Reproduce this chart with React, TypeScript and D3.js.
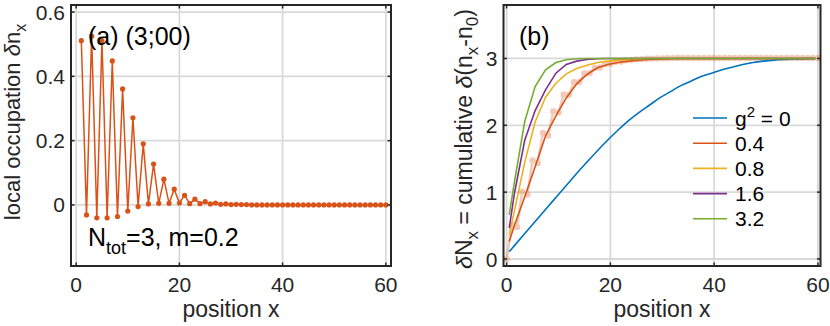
import * as d3 from 'd3';

// left panel: local occupation per site
const sites = d3.range(1, 61);
const occupation = [
  0.511, -0.031, 0.525, -0.040, 0.511, -0.040, 0.448, -0.036, 0.361, -0.019,
  0.271, -0.005, 0.190, 0.003, 0.127, 0.005, 0.080, 0.005, 0.049, 0.006,
  0.030, 0.004, 0.018, 0.004, 0.010, 0.003, 0.006, 0.002, 0.003, 0.001,
  0.002, 0.001, 0.001, 0, 0, 0, 0, 0, 0, 0,
  0, 0, 0, 0, 0, 0, 0, 0, 0, 0,
  0, 0, 0, 0, 0, 0, 0, 0, 0, 0,
];

// right panel: cumulative curves for each coupling
const cumX = [0.5, 1.5, 3.5, 5.5, 7.5, 9.5, 11.5, 13.5, 15.5, 17.5, 19.5, 21.5, 23.5, 25.5, 27.5,
  29.5, 31.5, 33.5, 35.5, 37.5, 39.5, 41.5, 43.5, 45.5, 47.5, 49.5, 51.5, 53.5, 55.5, 57.5, 59.5];
const g0 = [0.11, 0.20, 0.38, 0.56, 0.74, 0.92, 1.10, 1.28, 1.45, 1.62, 1.78, 1.93, 2.07, 2.19, 2.30,
  2.41, 2.50, 2.59, 2.66, 2.73, 2.78, 2.83, 2.87, 2.91, 2.94, 2.96, 2.975, 2.985, 2.993, 2.998, 3.0];
const g04 = [0.26, 0.50, 0.93, 1.38, 1.84, 2.14, 2.41, 2.62, 2.76, 2.86, 2.91, 2.94, 2.96, 2.975, 2.985,
  2.99, 2.995, 3, 3, 3, 3, 3, 3, 3, 3, 3, 3, 3, 3, 3, 3];
const g08 = [0.36, 0.72, 1.45, 2.05, 2.42, 2.63, 2.77, 2.85, 2.90, 2.94, 2.96, 2.975, 2.985, 2.99, 3,
  3, 3, 3, 3, 3, 3, 3, 3, 3, 3, 3, 3, 3, 3, 3, 3];
const g16 = [0.46, 0.98, 1.78, 2.22, 2.53, 2.78, 2.91, 2.96, 2.985, 2.995, 3, 3, 3, 3, 3,
  3, 3, 3, 3, 3, 3, 3, 3, 3, 3, 3, 3, 3, 3, 3, 3];
const g32 = [0.66, 1.15, 2.06, 2.58, 2.83, 2.94, 2.98, 2.995, 3, 3, 3, 3, 3, 3, 3,
  3, 3, 3, 3, 3, 3, 3, 3, 3, 3, 3, 3, 3, 3, 3, 3];
const series = [
  { label: '0', values: g0, color: '#0072BD' },
  { label: '0.4', values: g04, color: '#D95319' },
  { label: '0.8', values: g08, color: '#EDB120' },
  { label: '1.6', values: g16, color: '#7E2F8E' },
  { label: '3.2', values: g32, color: '#77AC30' },
];

const xTicks = [0, 20, 40, 60];
const leftYTicks = [0, 0.2, 0.4, 0.6];
const rightYTicks = [0, 1, 2, 3];

const FONT = '"Liberation Sans", Arial, Helvetica, sans-serif';
const AXIS = '#262626';
const GRID = '#d9d9d9';

const lx = d3.scaleLinear().domain([-1, 61]).range([71, 391]);
const ly = d3.scaleLinear().domain([-0.19, 0.622]).range([266, 5]);
const rx = d3.scaleLinear().domain([-0.6, 60.5]).range([503.5, 820.5]);
const ry = d3.scaleLinear().domain([-0.105, 3.8]).range([266, 5]);

function Grid({ x, y, yTicks }) {
  const [x0, x1] = x.range();
  const [y1, y0] = y.range();
  return (
    <g>
      {xTicks.map(t => (
        <line key={'gx' + t} x1={x(t)} x2={x(t)} y1={y0} y2={y1} stroke={GRID} strokeWidth={1.8} />
      ))}
      {yTicks.map(t => (
        <line key={'gy' + t} x1={x0} x2={x1} y1={y(t)} y2={y(t)} stroke={GRID} strokeWidth={1.8} />
      ))}
    </g>
  );
}

function Box({ x, y, yTicks, yFmt }) {
  const [x0, x1] = x.range();
  const [y1, y0] = y.range();
  const tl = 3.5;
  return (
    <g fill={AXIS} fontFamily={FONT}>
      <rect x={x0} y={y0} width={x1 - x0} height={y1 - y0} fill="none" stroke={AXIS} strokeWidth={2} />
      {xTicks.map(t => (
        <g key={'tx' + t}>
          <line x1={x(t)} x2={x(t)} y1={y1} y2={y1 - tl} stroke={AXIS} strokeWidth={1.5} />
          <line x1={x(t)} x2={x(t)} y1={y0} y2={y0 + tl} stroke={AXIS} strokeWidth={1.5} />
          <text x={x(t)} y={292} fontSize={21} textAnchor="middle">{t}</text>
        </g>
      ))}
      {yTicks.map(t => (
        <g key={'ty' + t}>
          <line x1={x0} x2={x0 + tl} y1={y(t)} y2={y(t)} stroke={AXIS} strokeWidth={1.5} />
          <line x1={x1} x2={x1 - tl} y1={y(t)} y2={y(t)} stroke={AXIS} strokeWidth={1.5} />
          <text x={x0 - 6} y={y(t)} dy="0.36em" fontSize={21} textAnchor="end">{yFmt(t)}</text>
        </g>
      ))}
      <text x={(x0 + x1) / 2} y={317} fontSize={23} textAnchor="middle">position x</text>
    </g>
  );
}

export default function App() {
  const occLine = d3.line<number>().x((_, i) => lx(sites[i])).y(d => ly(d));
  const cumPts = [0, ...Array.from(d3.cumsum(occupation))];
  const cumSites = [0, ...sites];
  const cumLine = d3.line<number>().x((_, i) => rx(cumSites[i])).y(d => ry(d));
  const curve = d3.line<number>().x((_, i) => rx(cumX[i])).y(d => ry(d));
  const smooth = d3.line<number>().x((_, i) => rx(cumX[i])).y(d => ry(d)).curve(d3.curveMonotoneX);

  return (
    <svg width={830} height={326} style={{ position: 'absolute', left: 0, top: 0, background: '#fff' }}>
      {/* panel (a) */}
      <Grid x={lx} y={ly} yTicks={leftYTicks} />
      <path d={occLine(occupation)} fill="none" stroke="#D95319" strokeWidth={1.5} />
      {occupation.map((v, i) => (
        <circle key={i} cx={lx(sites[i])} cy={ly(v)} r={2.6} fill="#D95319" />
      ))}
      <Box x={lx} y={ly} yTicks={leftYTicks} yFmt={t => (t === 0 ? '0' : t.toFixed(1))} />
      <text x={88} y={45} fontSize={25} fontFamily={FONT} fill="#000">(a) (3;00)</text>
      <text x={88} y={246} fontSize={25} fontFamily={FONT} fill="#000">
        N<tspan dy={8} fontSize={18}>tot</tspan><tspan dy={-8}>=3, m=0.2</tspan>
      </text>
      <text transform="translate(20,122) rotate(-90)" fontSize={22} fontFamily={FONT} fill={AXIS} textAnchor="middle">
        local occupation <tspan fontStyle="italic">δ</tspan>n<tspan dy={6} fontSize={16}>x</tspan>
      </text>

      {/* panel (b) */}
      <Grid x={rx} y={ry} yTicks={rightYTicks} />
      <g opacity={0.3}>
        <path d={cumLine(cumPts)} fill="none" stroke="#D95319" strokeWidth={2.5} />
        {cumPts.map((v, i) => (
          <circle key={i} cx={rx(cumSites[i])} cy={ry(v)} r={3.2} fill="#D95319" />
        ))}
      </g>
      {series.map((s, i) => (
        <path key={s.label} d={(i === 0 ? smooth : curve)(s.values)} fill="none" stroke={s.color} strokeWidth={1.6} />
      ))}
      <Box x={rx} y={ry} yTicks={rightYTicks} yFmt={t => String(t)} />
      <text x={519} y={45} fontSize={25} fontFamily={FONT} fill="#000">(b)</text>
      <text transform="translate(472,139) rotate(-90)" fontSize={23} fontFamily={FONT} fill={AXIS} textAnchor="middle">
        <tspan fontStyle="italic">δ</tspan>N<tspan dy={6} fontSize={17}>x</tspan><tspan dy={-6}> = cumulative </tspan>
        <tspan fontStyle="italic">δ</tspan>(n<tspan dy={6} fontSize={17}>x</tspan><tspan dy={-6}>-n</tspan>
        <tspan dy={6} fontSize={17}>0</tspan><tspan dy={-6}>)</tspan>
      </text>
      {/* legend */}
      <g fontFamily={FONT} fontSize={21} fill="#000">
        {series.map((s, i) => {
          const cy = 118 + i * 25.2;
          return (
            <g key={s.label}>
              <line x1={693} x2={727} y1={cy} y2={cy} stroke={s.color} strokeWidth={1.6} />
              <text x={735} y={cy + 7.5}>
                {i === 0 ? (
                  <>g<tspan dy={-9} fontSize={15}>2</tspan><tspan dy={9}> = 0</tspan></>
                ) : s.label}
              </text>
            </g>
          );
        })}
      </g>
    </svg>
  );
}
